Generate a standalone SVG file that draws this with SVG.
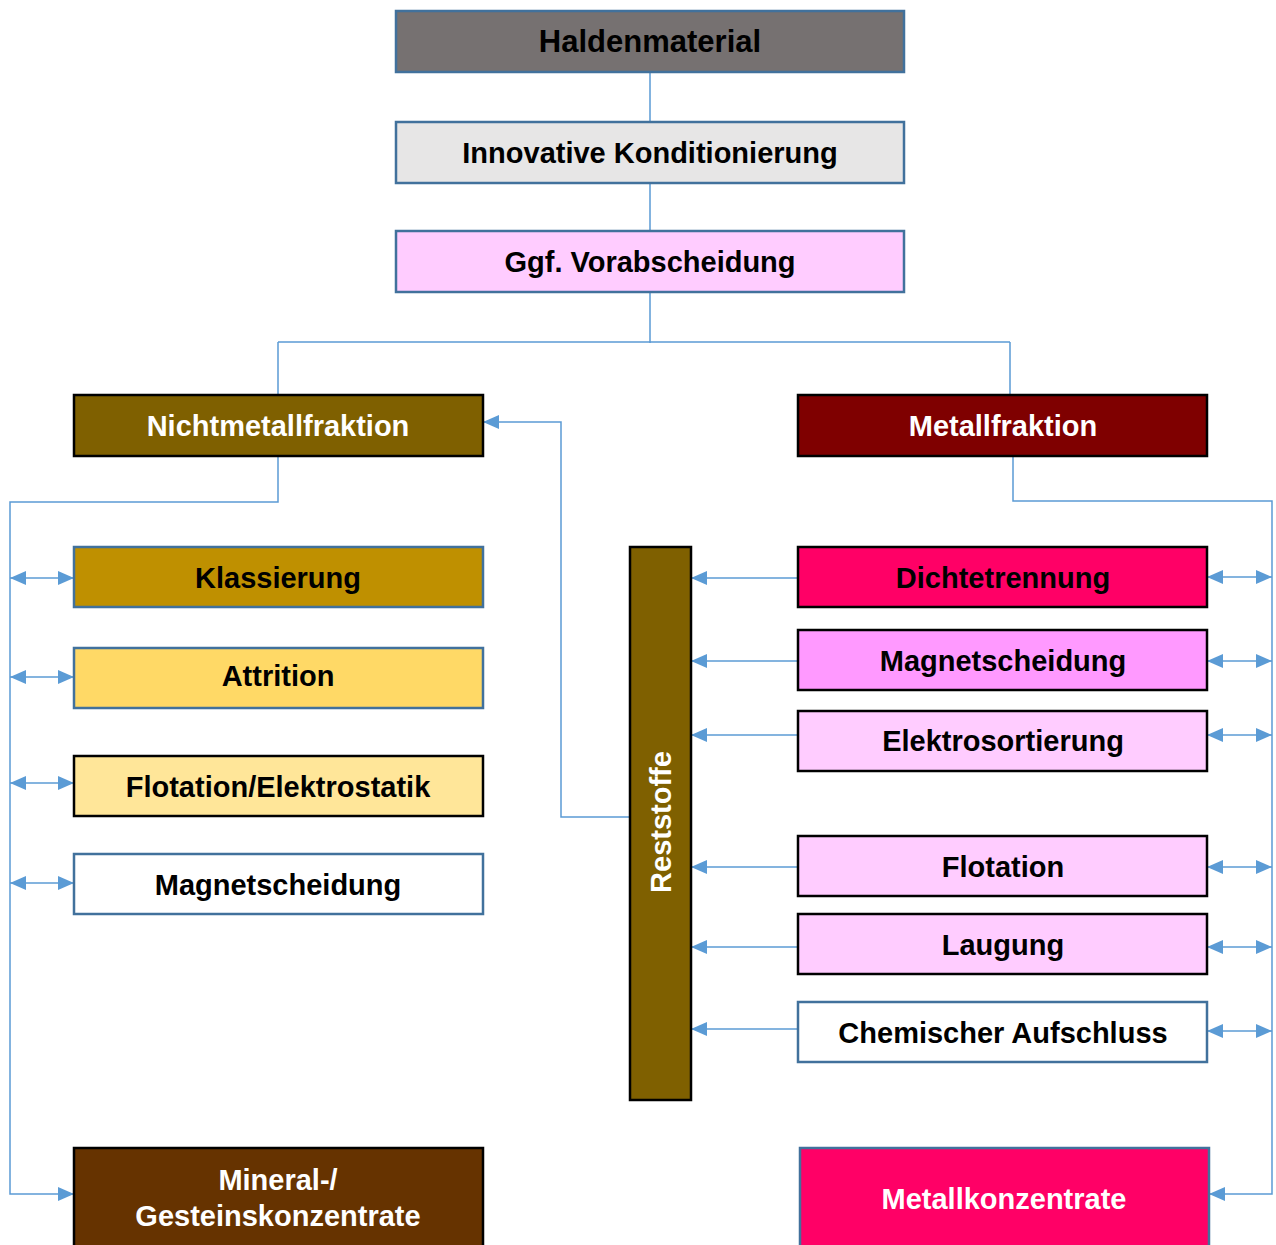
<svg xmlns="http://www.w3.org/2000/svg" width="1276" height="1245" viewBox="0 0 1276 1245">
<defs>
<marker id="ah" markerUnits="userSpaceOnUse" markerWidth="16" markerHeight="14" viewBox="0 0 16 14" refX="16" refY="7" orient="auto-start-reverse">
<path d="M0,0 L16,7 L0,14 z" fill="#5b9bd5"/>
</marker>
<style>
.bb{stroke:#000;stroke-width:2.5}
.bl{stroke:#41719c;stroke-width:2.5}
.t{font-family:"Liberation Sans",Arial,sans-serif;font-weight:bold;font-size:29px;text-anchor:middle}
.w{fill:#fff}
.k{fill:#000}
.c{fill:none;stroke:#5b9bd5;stroke-width:1.5}
.a{fill:none;stroke:#5b9bd5;stroke-width:1.5;marker-end:url(#ah)}
.d{fill:none;stroke:#5b9bd5;stroke-width:1.5;marker-start:url(#ah);marker-end:url(#ah)}
</style>
</defs>
<rect width="1276" height="1245" fill="#fff"/>
<g id="connectors">
<path class="c" d="M650,72 V122 M650,183 V231 M650,292 V343 M278,342 H1010 M278,342 V395 M1010,342 V395"/>
<path class="a" d="M278,456 V502 H10 V1194 H74"/>
<path class="a" d="M1013,456 V501 H1272 V1194 H1209"/>
<path class="a" d="M630,817 H561 V422 H483"/>
<path class="d" d="M10,578 H74"/>
<path class="d" d="M10,677 H74"/>
<path class="d" d="M10,783 H74"/>
<path class="d" d="M10,883 H74"/>
<path class="a" d="M798,578 H691"/>
<path class="a" d="M798,661 H691"/>
<path class="a" d="M798,735 H691"/>
<path class="a" d="M798,867 H691"/>
<path class="a" d="M798,947 H691"/>
<path class="a" d="M798,1029 H691"/>
<path class="d" d="M1207,577 H1272"/>
<path class="d" d="M1207,661 H1272"/>
<path class="d" d="M1207,735 H1272"/>
<path class="d" d="M1207,867 H1272"/>
<path class="d" d="M1207,947 H1272"/>
<path class="d" d="M1207,1031 H1272"/>
</g>
<g id="haldenmaterial"><rect class="bl" x="396" y="11" width="508" height="61" fill="#767171"/><text class="t k" x="650" y="52" style="font-size:31px">Haldenmaterial</text></g>
<g id="konditionierung"><rect class="bl" x="396" y="122" width="508" height="61" fill="#e7e6e6"/><text class="t k" x="650" y="163">Innovative Konditionierung</text></g>
<g id="vorabscheidung"><rect class="bl" x="396" y="231" width="508" height="61" fill="#ffccff"/><text class="t k" x="650" y="272">Ggf. Vorabscheidung</text></g>
<g id="nichtmetallfraktion"><rect class="bb" x="74" y="395" width="409" height="61" fill="#7f6000"/><text class="t w" x="278" y="436">Nichtmetallfraktion</text></g>
<g id="metallfraktion"><rect class="bb" x="798" y="395" width="409" height="61" fill="#7f0000"/><text class="t w" x="1003" y="436">Metallfraktion</text></g>
<g id="klassierung"><rect class="bl" x="74" y="547" width="409" height="60" fill="#bf9000"/><text class="t k" x="278" y="588">Klassierung</text></g>
<g id="attrition"><rect class="bl" x="74" y="648" width="409" height="60" fill="#ffd966"/><text class="t k" x="278" y="686">Attrition</text></g>
<g id="flotation-elektrostatik"><rect class="bb" x="74" y="756" width="409" height="60" fill="#ffe699"/><text class="t k" x="278" y="797">Flotation/Elektrostatik</text></g>
<g id="magnetscheidung-links"><rect class="bl" x="74" y="854" width="409" height="60" fill="#fff"/><text class="t k" x="278" y="895">Magnetscheidung</text></g>
<g id="mineralkonzentrate"><rect class="bb" x="74" y="1148" width="409" height="110" fill="#663300"/><text class="t w" x="278" y="1190">Mineral-/</text><text class="t w" x="278" y="1226">Gesteinskonzentrate</text></g>
<g id="reststoffe"><rect class="bb" x="630" y="547" width="61" height="553" fill="#7f6000"/><text class="t w" transform="translate(671,822) rotate(-90)" x="0" y="0">Reststoffe</text></g>
<g id="dichtetrennung"><rect class="bb" x="798" y="547" width="409" height="60" fill="#ff0066"/><text class="t k" x="1003" y="588">Dichtetrennung</text></g>
<g id="magnetscheidung-rechts"><rect class="bb" x="798" y="630" width="409" height="60" fill="#ff99ff"/><text class="t k" x="1003" y="671">Magnetscheidung</text></g>
<g id="elektrosortierung"><rect class="bb" x="798" y="711" width="409" height="60" fill="#ffccff"/><text class="t k" x="1003" y="751">Elektrosortierung</text></g>
<g id="flotation"><rect class="bb" x="798" y="836" width="409" height="60" fill="#ffccff"/><text class="t k" x="1003" y="877">Flotation</text></g>
<g id="laugung"><rect class="bb" x="798" y="914" width="409" height="60" fill="#ffccff"/><text class="t k" x="1003" y="955">Laugung</text></g>
<g id="chemischer-aufschluss"><rect class="bl" x="798" y="1002" width="409" height="60" fill="#fff"/><text class="t k" x="1003" y="1043">Chemischer Aufschluss</text></g>
<g id="metallkonzentrate"><rect class="bl" x="800" y="1148" width="409" height="110" fill="#ff0066"/><text class="t w" x="1004" y="1209">Metallkonzentrate</text></g>
</svg>
